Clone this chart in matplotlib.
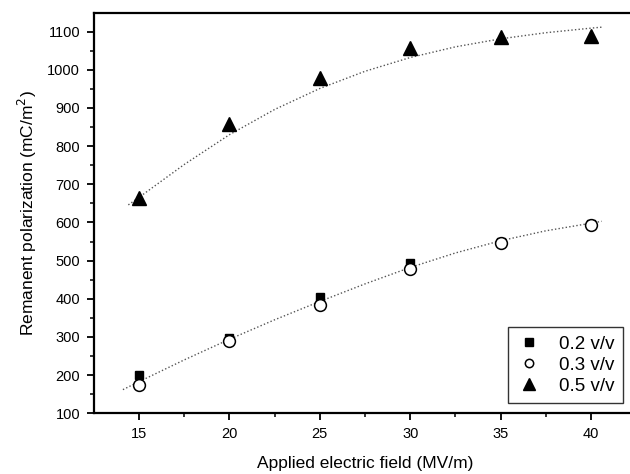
import matplotlib
matplotlib.use("Agg")
import matplotlib.pyplot as plt

# ---- data ----
field = [15, 20, 25, 30, 35, 40]
p_02 = [201, 298, 404, 495, 550, 597]
p_03 = [174, 290, 383, 477, 547, 593]
p_05 = [663, 858, 978, 1056, 1085, 1089]

# fitted trend curves as drawn in the reference
fit_low_x = [14.1, 15, 17.5, 20, 22.5, 25, 27.5, 30, 32.5, 35, 37.5, 40, 40.6]
fit_low_y = [162, 183, 240, 294, 345, 393, 439, 482, 520, 552, 578, 598, 603]
fit_high_x = [14.4, 15, 17.5, 20, 22.5, 25, 27.5, 30, 32.5, 35, 37.5, 40, 40.7]
fit_high_y = [646, 666, 752, 830, 896, 951, 996, 1032, 1060, 1081, 1097, 1109, 1112]

labels = ["0.2 v/v", "0.3 v/v", "0.5 v/v"]
xticks = [15, 20, 25, 30, 35, 40]
yticks = [100, 200, 300, 400, 500, 600, 700, 800, 900, 1000, 1100]

plt.rcParams['font.family'] = ['Liberation Sans', 'DejaVu Sans']

fig = plt.figure(figsize=(6.30, 4.74), dpi=100)
W, H = 630, 474
left, right, top, bottom = 94, 636, 12.5, 413.3
ax = fig.add_axes([left / W, 1 - bottom / H, (right - left) / W, (bottom - top) / H])

fitkw = dict(color='#555555', lw=1.0, linestyle=(0, (1, 1.6)), zorder=2)
ax.plot(fit_high_x, fit_high_y, **fitkw)
ax.plot(fit_low_x, fit_low_y, **fitkw)

ax.plot(field, p_02, linestyle='none', marker='s', ms=5.2, mfc='black', mec='black', label=labels[0], zorder=3)
ax.plot(field, p_03, linestyle='none', marker='o', ms=8.5, mfc='white', mec='black', mew=1.1, label=labels[1], zorder=4)
ax.plot(field, p_05, linestyle='none', marker='^', ms=10, mfc='black', mec='black', label=labels[2], zorder=5)

ax.set_xlim(12.5, 42.5)
ax.set_ylim(100, 1150)
ax.set_xticks(xticks)
ax.set_yticks(yticks)
ax.set_xticks([17.5, 22.5, 27.5, 32.5, 37.5, 42.5], minor=True)
ax.set_yticks([150, 250, 350, 450, 550, 650, 750, 850, 950, 1050], minor=True)
ax.tick_params(which='major', direction='out', length=5, width=1.3, labelsize=10.5, pad=5)
ax.tick_params(which='minor', direction='out', length=3, width=1.1)
for s in ax.spines.values():
    s.set_linewidth(1.6)

ax.set_xlabel("Applied electric field (MV/m)", fontsize=12.5, labelpad=11)
ax.set_ylabel("Remanent polarization (mC/m$^2$)", fontsize=12.5, labelpad=6)

leg = ax.legend(loc='lower right', bbox_to_anchor=(623 / W, 1 - 403 / H),
                bbox_transform=fig.transFigure, borderaxespad=0,
                fontsize=13.5, frameon=True, fancybox=False, edgecolor='black',
                handlelength=1.4, handletextpad=0.9, labelspacing=0.2,
                borderpad=0.45, markerscale=1.0)
leg.get_frame().set_linewidth(1.0)
for h, ms in zip(leg.legend_handles, [6, 6, 8.5]):
    h.set_markersize(ms)

fig.savefig("out.png", dpi=100)
